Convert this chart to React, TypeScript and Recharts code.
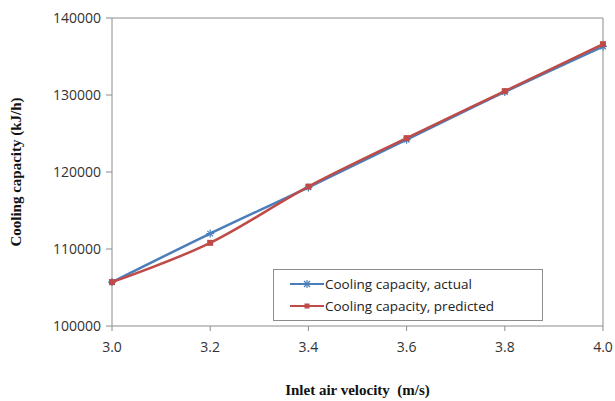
import {
  Line,
  LineChart,
  ReferenceLine,
  XAxis,
  YAxis,
} from "recharts";

const velocity = [3.0, 3.2, 3.4, 3.6, 3.8, 4.0];
const actual = [105700, 112000, 118000, 124200, 130400, 136300];
const predicted = [105700, 110800, 118100, 124400, 130500, 136600];
const xTicks = [3.0, 3.2, 3.4, 3.6, 3.8, 4.0];
const yTicks = [100000, 110000, 120000, 130000, 140000];

const BLUE = "#4a7ebb";
const RED = "#be4b48";
const AXIS = "#8c8c8c";

const data = velocity.map((v, i) => ({ v, actual: actual[i], predicted: predicted[i] }));

const StarDot = (props: any) => {
  const { cx, cy } = props;
  if (cx == null || cy == null) return null;
  const r = 4;
  return (
    <g stroke={BLUE} strokeWidth={1.2}>
      <line x1={cx - r} y1={cy} x2={cx + r} y2={cy} />
      <line x1={cx} y1={cy - r} x2={cx} y2={cy + r} />
      <line x1={cx - r * 0.7} y1={cy - r * 0.7} x2={cx + r * 0.7} y2={cy + r * 0.7} />
      <line x1={cx - r * 0.7} y1={cy + r * 0.7} x2={cx + r * 0.7} y2={cy - r * 0.7} />
    </g>
  );
};

const SquareDot = (props: any) => {
  const { cx, cy } = props;
  if (cx == null || cy == null) return null;
  return <rect x={cx - 3} y={cy - 3} width={6} height={6} fill={RED} />;
};

// legend sits inside the plot area, drawn as an overlay so it takes no room from the chart
const LegendBox = () => (
  <div
    style={{
      position: "absolute",
      left: 273,
      top: 269,
      border: "1px solid #8c8c8c",
      background: "#fff",
      width: 270,
      height: 52,
      boxSizing: "border-box",
      padding: "3px 0 0 16px",
      fontFamily: "'Open Sans', 'Noto Sans', sans-serif",
      fontSize: 13.5,
      color: "#222",
    }}
  >
    {[
      { label: "Cooling capacity, actual", color: BLUE, star: true },
      { label: "Cooling capacity, predicted", color: RED, star: false },
    ].map((it) => (
      <div key={it.label} style={{ display: "flex", alignItems: "center", height: 22 }}>
        <svg width={34} height={12} style={{ marginRight: 1 }}>
          <line x1={0} y1={6} x2={34} y2={6} stroke={it.color} strokeWidth={2} />
          {it.star ? (
            <g stroke={it.color} strokeWidth={1.2}>
              <line x1={13} y1={6} x2={21} y2={6} />
              <line x1={17} y1={2} x2={17} y2={10} />
              <line x1={14} y1={3} x2={20} y2={9} />
              <line x1={14} y1={9} x2={20} y2={3} />
            </g>
          ) : (
            <rect x={14.5} y={3.5} width={5} height={5} fill={it.color} />
          )}
        </svg>
        <span>{it.label}</span>
      </div>
    ))}
  </div>
);

export default function App() {
  return (
    <div style={{ position: "absolute", left: 0, top: 0, width: 615, height: 401, background: "#fff" }}>
      <LineChart width={615} height={401} data={data} margin={{ top: 18, right: 12, bottom: 0, left: 0 }}>
        <XAxis
          dataKey="v"
          type="number"
          domain={[3, 4]}
          ticks={xTicks}
          tickFormatter={(t: number) => t.toFixed(1)}
          stroke={AXIS}
          tickSize={5}
          tick={{ fill: "#333", fontSize: 14, fontFamily: "'Open Sans', 'Noto Sans', sans-serif", dy: 9 }}
          label={{
            value: "Inlet air velocity \u00a0(m/s)",
            position: "insideBottom",
            offset: 6,
            style: { fill: "#111", fontSize: 15, fontWeight: "bold", fontFamily: "'Liberation Serif', serif" },
          }}
          height={75}
        />
        <YAxis
          domain={[100000, 140000]}
          ticks={yTicks}
          stroke={AXIS}
          tickSize={6}
          width={112}
          tick={{ fill: "#333", fontSize: 14, fontFamily: "'Open Sans', 'Noto Sans', sans-serif", dx: -3 }}
          label={{
            value: "Cooling capacity (kJ/h)",
            angle: -90,
            position: "insideLeft",
            offset: 16,
            style: {
              textAnchor: "middle",
              fill: "#111",
              fontSize: 15,
              fontWeight: "bold",
              fontFamily: "'Liberation Serif', serif",
            },
          }}
        />
        <ReferenceLine y={140000} stroke={AXIS} />
        <ReferenceLine x={4} stroke={AXIS} />
        <Line
          type="monotone"
          dataKey="actual"
          stroke={BLUE}
          strokeWidth={2.5}
          dot={<StarDot />}
          isAnimationActive={false}
        />
        <Line
          type="monotone"
          dataKey="predicted"
          stroke={RED}
          strokeWidth={2.5}
          dot={<SquareDot />}
          isAnimationActive={false}
        />
      </LineChart>
      <LegendBox />
    </div>
  );
}
